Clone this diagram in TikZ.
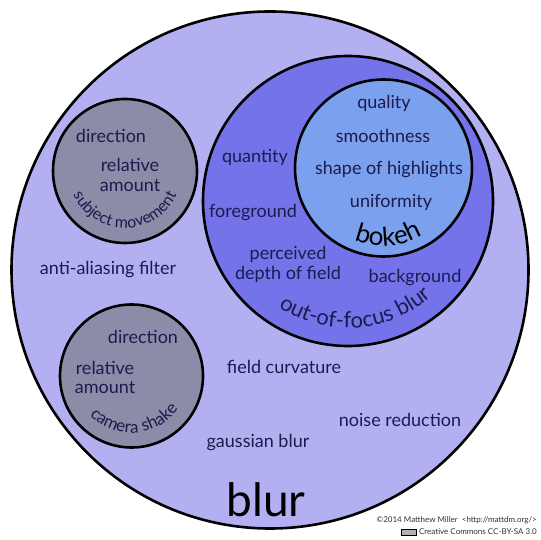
\documentclass[tikz,border=0pt]{standalone}
\usepackage{fontspec}
\setmainfont{Lato}
\usetikzlibrary{decorations.text}
\definecolor{bigfill}{HTML}{B3B0F2}
\definecolor{ooffill}{HTML}{7573EA}
\definecolor{bokehfill}{HTML}{7AA0EE}
\definecolor{grayfill}{HTML}{8C8CA8}
\definecolor{txt}{HTML}{1C1B4E}
\tikzset{
  setcircle/.style={draw=black, line width=2.6pt},
  lbl/.style={text=txt, font=\fontsize{18}{19.5}\selectfont, inner sep=0pt, align=center},
  credit/.style={text=black!80, font=\fontsize{8}{8}\selectfont, inner sep=0pt, anchor=east},
}
\begin{document}
\begin{tikzpicture}[x=1pt,y=1pt]
\useasboundingbox (0,0) rectangle (540,540);
\fill[white] (0,0) rectangle (540,540);
% circles
\draw[setcircle, fill=bigfill] (270,270) circle[radius=258.5];
\draw[setcircle, fill=ooffill] (348,339) circle[radius=145];
\draw[setcircle, fill=bokehfill] (383.5,372) circle[radius=88.5];
\draw[setcircle, fill=grayfill] (125,369) circle[radius=72];
\draw[setcircle, fill=grayfill] (131.5,164) circle[radius=71.5];
% subject movement
\node[lbl] (sdir) at (111,404) {direction};
\node[lbl] (srel) at (130,365) {relative\\amount};
\path[decorate, decoration={text along path, text align=center, text color=txt,
  text={|\fontsize{16}{16}\selectfont|subject movement}}]
  (125,369) ++(190:57) arc[start angle=190, end angle=350, radius=57];
% camera shake
\node[lbl] (cdir) at (143,203) {direction};
\node[lbl] (crel) at (105,162.5) {relative\\amount};
\path[decorate, decoration={text along path, text align=center, text color=txt,
  text={|\fontsize{17}{17}\selectfont|camera shake}}]
  (131.5,164) ++(194:57) arc[start angle=194, end angle=354, radius=57];
% general
\node[lbl] (aa) at (108,270) {anti-aliasing filter};
\node[lbl] (fc) at (284,173) {field curvature};
\node[lbl] (nr) at (400,120) {noise reduction};
\node[lbl] (gb) at (258,97) {gaussian blur};
\node[text=black, font=\fontsize{46}{46}\selectfont, inner sep=0pt] (blur) at (266,40) {blur};
% out of focus
\node[lbl] (qty) at (255,383) {quantity};
\node[lbl] (fg) at (253,327) {foreground};
\node[lbl] (pdf) at (288,275.5) {perceived\\depth of field};
\node[lbl] (bg) at (415,262) {background};
\path[decorate, decoration={text along path, text align=center, text color=txt,
  text={|\fontsize{22}{22}\selectfont|out-of-focus blur}}]
  (348,339) ++(214:127) arc[start angle=214, end angle=334, radius=127];
% bokeh
\node[lbl] (q) at (384,437) {quality};
\node[lbl] (sm) at (383,404) {smoothness};
\node[lbl] (sh) at (389,370) {shape of highlights};
\node[lbl] (un) at (391,338) {uniformity};
\path[decorate, decoration={text along path, text align=center, text color=black,
  text={|\fontsize{26}{26}\selectfont|bokeh}}]
  (383.5,372) ++(234:78) arc[start angle=234, end angle=314, radius=78];
% credits
\node[credit] (c1) at (537,20) {\textcopyright 2014 Matthew Miller\ \ <http://mattdm.org/>};
\node[credit] (c2) at (537,8) {Creative Commons CC-BY-SA 3.0};
\node[draw=black, fill=black!30, minimum width=15pt, minimum height=6pt, inner sep=0pt, anchor=east] (cc) at ([xshift=-2pt]c2.west) {};
\end{tikzpicture}
\end{document}
